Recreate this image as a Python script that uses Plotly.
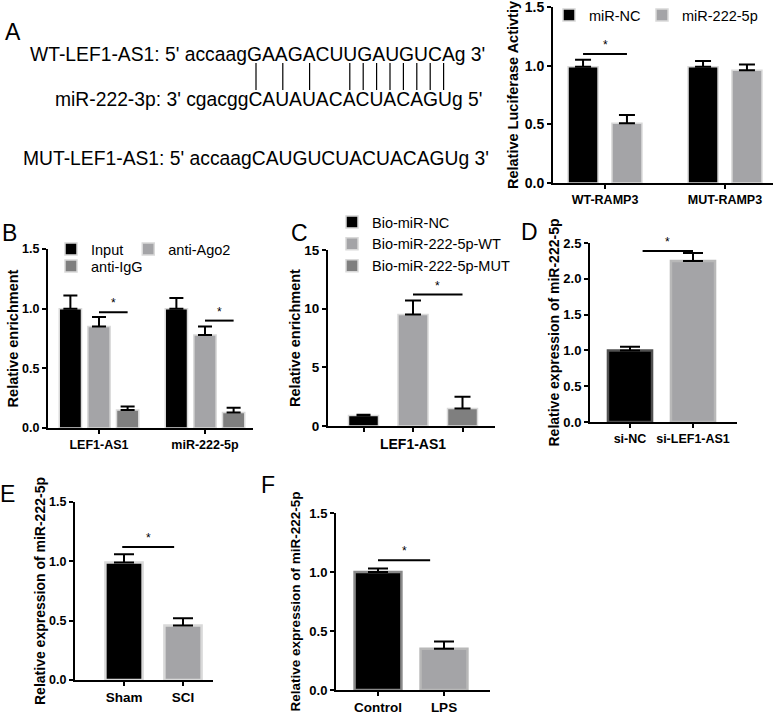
import plotly.graph_objects as go

W, H = 778, 720
FONT = "Liberation Sans, Arial, sans-serif"
BLACK, LIGHT, DARK = "#000000", "#a4a4a7", "#7f7f7f"

# ---- data ----
# A: luciferase reporter
a_groups = ["WT-RAMP3", "MUT-RAMP3"]
a_nc = [0.99, 0.99]
a_nc_err = [0.06, 0.05]
a_mir = [0.51, 0.96]
a_mir_err = [0.07, 0.05]
a_sig = 1.10

# B: RIP
b_groups = ["LEF1-AS1", "miR-222-5p"]
b_input = [1.0, 1.0]
b_input_err = [0.11, 0.09]
b_ago2 = [0.85, 0.78]
b_ago2_err = [0.08, 0.07]
b_igg = [0.15, 0.13]
b_igg_err = [0.03, 0.04]
b_sig = [0.97, 0.90]

# C: RNA pull-down
c_groups = ["LEF1-AS1"]
c_nc = [0.9]
c_nc_err = [0.05]
c_wt = [9.5]
c_wt_err = [1.2]
c_mut = [1.5]
c_mut_err = [1.0]
c_sig = 11.2

# D, E, F: qPCR
d_cats = ["si-NC", "si-LEF1-AS1"]
d_vals = [1.0, 2.25]
d_err = [0.05, 0.11]
d_sig = 2.39

e_cats = ["Sham", "SCI"]
e_vals = [0.99, 0.46]
e_err = [0.07, 0.06]
e_sig = 1.12

f_cats = ["Control", "LPS"]
f_vals = [1.0, 0.35]
f_err = [0.03, 0.06]
f_sig = 1.10

# sequences (panel A)
wt_pre, wt_seed, wt_post = "WT-LEF1-AS1: 5' accaag", "GAAGACUUGAUGUCA", "g 3'"
mir_pre, mir_seed, mir_post = "miR-222-3p: 3' cgacgg", "CAUAUACACUACAGU", "g 5'"
mut_seq = "MUT-LEF1-AS1: 5' accaagCAUGUCUACUACAGUg 3'"

fig = go.Figure()


def xr(left, right, c0, unit):
    return [(left - c0) / unit, (right - c0) / unit]


def add_bars(n, vals, errs, color, d, w, name=None, legend=None,
             lc="#d9d9d9", lw=1.5, cap=7):
    fig.add_trace(go.Bar(
        x=list(range(len(vals))), y=vals, offset=d - w / 2, width=w,
        marker=dict(color=color, line=dict(color=lc, width=lw)),
        error_y=dict(type="data", array=errs, arrayminus=[0] * len(errs),
                     symmetric=False, color="black", thickness=2, width=cap),
        name=name, showlegend=legend is not None, legend=legend or "legend",
        xaxis="x" + n, yaxis="y" + n))


# A
add_bars("", a_nc, a_nc_err, BLACK, -0.183, 0.25, "miR-NC", "legend", cap=8)
add_bars("", a_mir, a_mir_err, LIGHT, 0.183, 0.25, "miR-222-5p", "legend5", cap=8)
# B
add_bars("2", b_input, b_input_err, BLACK, -0.27, 0.21, "Input", "legend2")
add_bars("2", b_ago2, b_ago2_err, LIGHT, 0.0, 0.21, "anti-Ago2", "legend2")
add_bars("2", b_igg, b_igg_err, DARK, 0.27, 0.21, "anti-IgG", "legend3")
# C
add_bars("3", c_nc, c_nc_err, BLACK, -0.495, 0.30, "Bio-miR-NC", "legend4")
add_bars("3", c_wt, c_wt_err, LIGHT, 0.0, 0.30, "Bio-miR-222-5p-WT", "legend4", cap=8)
add_bars("3", c_mut, c_mut_err, DARK, 0.495, 0.30, "Bio-miR-222-5p-MUT", "legend4", cap=8)
# D, E, F (one trace per panel, bar colours per category)
for n, vals, errs, w, lcs in [("4", d_vals, d_err, 0.70, ["#505050", "#b8b8b8"]),
                              ("5", e_vals, e_err, 0.63, ["#d9d9d9", "#d9d9d9"]),
                              ("6", f_vals, f_err, 0.71, ["#8a8a8a", "#b8b8b8"])]:
    fig.add_trace(go.Bar(
        x=list(range(len(vals))), y=vals, width=w,
        marker=dict(color=[BLACK, LIGHT], line=dict(color=lcs, width=2.5)),
        error_y=dict(type="data", array=errs, arrayminus=[0] * len(errs),
                     symmetric=False, color="black", thickness=2, width=10),
        showlegend=False, xaxis="x" + n, yaxis="y" + n))

axis_common = dict(showline=True, linecolor="black", linewidth=2, ticks="outside",
                   ticklen=4, tickwidth=2, tickcolor="black", showgrid=False,
                   zeroline=False, fixedrange=True, ticklabeloverflow="allow")


def set_axes(n, xpx, ypx, xrange, yrange, dtick, tickvals, ticktext, yfmt,
             title, standoff, yfs, xfs, tfs=14.5):
    fig.update_layout({
        "xaxis" + n: dict(axis_common, domain=[xpx[0] / W, xpx[1] / W], range=xrange,
                          anchor="y" + n, tickvals=tickvals, ticktext=ticktext,
                          tickfont=dict(size=xfs, weight="bold", color="black")),
        "yaxis" + n: dict(axis_common, domain=[1 - ypx[1] / H, 1 - ypx[0] / H],
                          range=yrange, anchor="x" + n, dtick=dtick, tickformat=yfmt,
                          tickfont=dict(size=yfs, weight="bold", color="black"),
                          title=dict(text=title, standoff=standoff,
                                     font=dict(size=tfs, weight="bold", color="black"))),
    })


set_axes("", (553, 773), (7, 183), xr(553, 773, 605, 120), [0, 1.5], 0.5,
         [0, 1], a_groups, ".1f", "Relative Luciferase Activtiy", 3, 14, 12.5)
set_axes("2", (48, 253), (249, 428), xr(48, 253, 99, 106), [0, 1.5], 0.5,
         [0, 1], b_groups, ".1f", "Relative enrichment", 0, 12.5, 12.5)
set_axes("3", (328, 495), (250, 426), xr(328, 495, 413, 100), [0, 15], 5,
         [-0.495, 0, 0.495], ["", c_groups[0], ""], "d", "Relative enrichment", 0, 13.5, 14)
set_axes("4", (590, 737), (243, 422), xr(590, 737, 630, 63), [0, 2.5], 0.5,
         [0, 1], d_cats, ".1f", "Relative expression of miR-222-5p", 0, 13, 12.5, 14)
set_axes("5", (75, 213), (502, 680), xr(75, 213, 124, 59), [0, 1.5], 0.5,
         [0, 1], e_cats, ".1f", "Relative expression of miR-222-5p", 0, 12.5, 13.5, 14)
set_axes("6", (336, 490), (513, 690), xr(336, 490, 378, 66), [0, 1.5], 0.5,
         [0, 1], f_cats, ".1f", "Relative expression of miR-222-5p", 6, 13, 13.5, 13.5)

# significance brackets: (axis suffix, x0, x1, y)
brackets = [("", -0.183, 0.183, a_sig),
            ("2", 0.0, 0.27, b_sig[0]), ("2", 1.0, 1.27, b_sig[1]),
            ("3", 0.0, 0.495, c_sig),
            ("4", 0.2, 1.0, d_sig), ("5", -0.03, 0.85, e_sig), ("6", 0.0, 0.79, f_sig)]
for n, x0, x1, y in brackets:
    fig.add_shape(type="line", xref="x" + n, yref="y" + n, x0=x0, x1=x1, y0=y, y1=y,
                  line=dict(color="black", width=2))
    fig.add_annotation(xref="x" + n, yref="y" + n, x=(x0 + x1) / 2, y=y, text="*",
                       showarrow=False, yanchor="bottom", font=dict(size=12))

# panel letters
for letter, x, y in [("A", 13, 32), ("B", 9, 233), ("C", 299, 233),
                     ("D", 529, 232), ("E", 7, 494), ("F", 268, 485)]:
    fig.add_annotation(xref="paper", yref="paper", x=x / W, y=1 - y / H, text=letter,
                       showarrow=False, xanchor="center", yanchor="middle",
                       font=dict(size=23))

# sequence alignment text
for txt, x, y in [(wt_pre + wt_seed + wt_post, 28, 55),
                  (mir_pre + mir_seed + mir_post, 53, 100),
                  (mut_seq, 21, 158)]:
    fig.add_annotation(xref="paper", yref="paper", x=x / W, y=1 - y / H, text=txt,
                       showarrow=False, xanchor="left", yanchor="middle",
                       font=dict(size=19.3))

pairs = {("G", "C"), ("C", "G"), ("A", "U"), ("U", "A")}
for i, (p, q) in enumerate(zip(wt_seed, mir_seed)):
    if (p, q) in pairs:
        xp = (256 + 13.4 * i) / W
        fig.add_shape(type="line", xref="paper", yref="paper", x0=xp, x1=xp,
                      y0=1 - 63 / H, y1=1 - 90 / H, line=dict(color="black", width=1.2))

leg = dict(orientation="h", xanchor="left", yanchor="top", bgcolor="rgba(0,0,0,0)",
           font=dict(size=14.5, color="black"), tracegroupgap=0)
fig.update_layout(
    width=W, height=H, margin=dict(l=0, r=0, t=0, b=0, autoexpand=False),
    paper_bgcolor="white", plot_bgcolor="white", barmode="overlay",
    font=dict(family=FONT, color="black"),
    legend=dict(leg, x=549 / W, y=1 + 1 / H),
    legend5=dict(leg, x=642 / W, y=1 + 1 / H),
    legend2=dict(leg, x=51 / W, y=1 - 233 / H),
    legend3=dict(leg, x=51 / W, y=1 - 250 / H),
    legend4=dict(leg, orientation="v", x=332 / W, y=1 - 206 / H),
)

# drop the page's default 8px body margin so the figure sits at the window origin
fig.write_html("out.html", config={"displayModeBar": False},
               post_script="document.body.style.margin='0';")
